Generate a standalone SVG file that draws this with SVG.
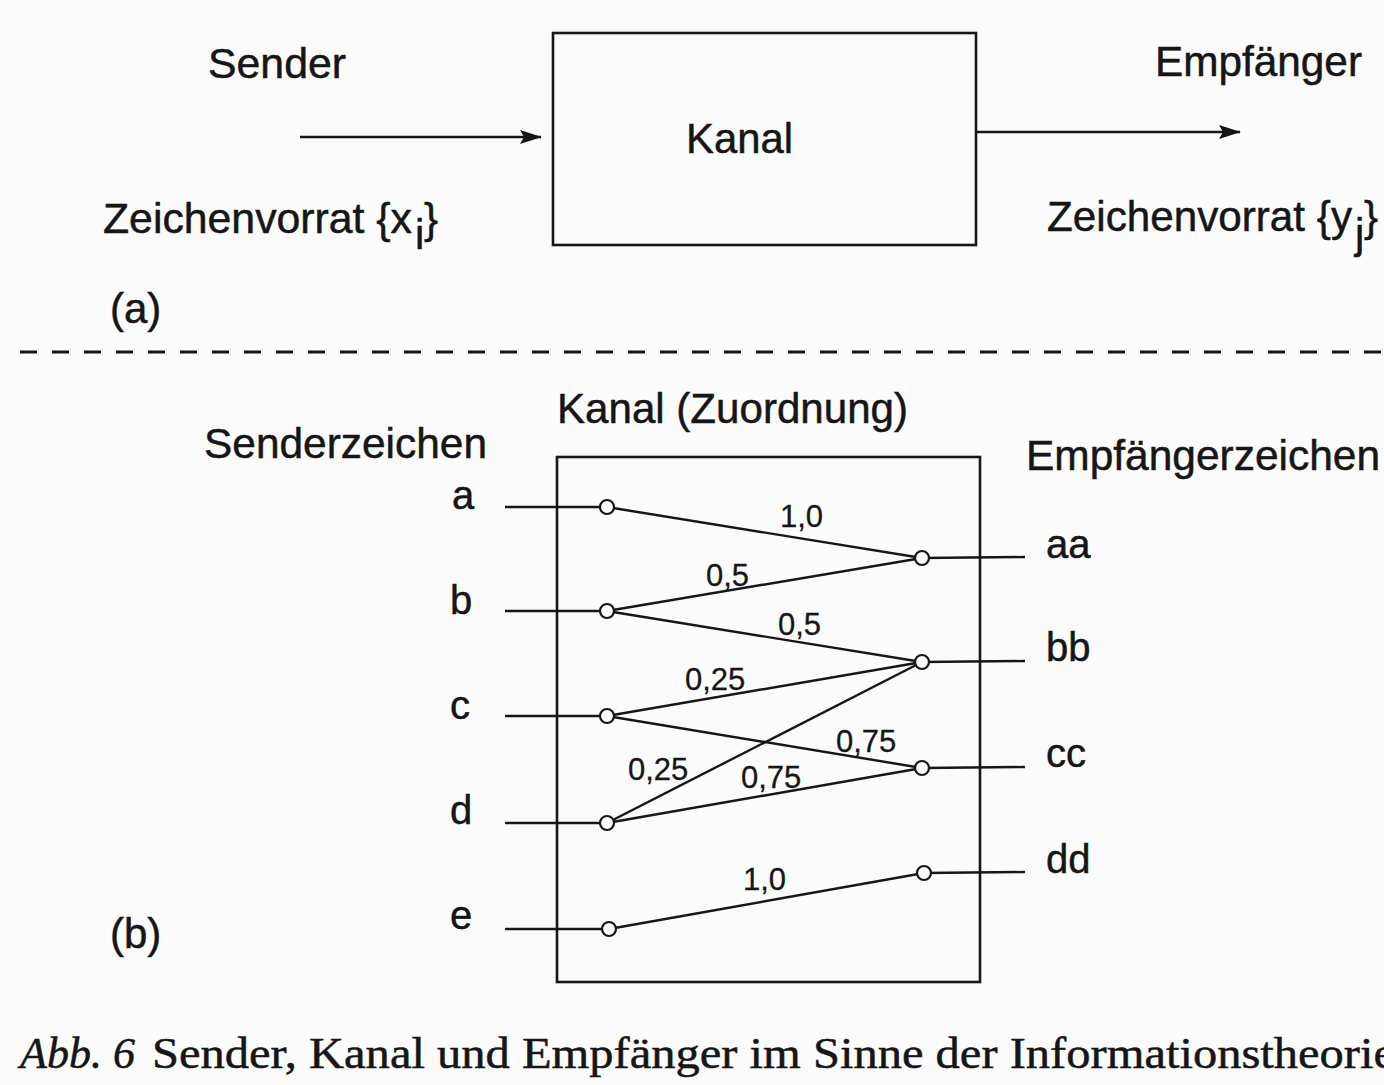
<svg xmlns="http://www.w3.org/2000/svg" width="1384" height="1085" viewBox="0 0 1384 1085">
  <defs>
    <marker id="arrow" viewBox="0 0 22 14" refX="21" refY="7" markerWidth="22" markerHeight="14" markerUnits="userSpaceOnUse" orient="auto">
      <path d="M0,0 L22,7 L0,14 L4,7 Z" fill="#161616"/>
    </marker>
    <style>
      .lbl { font-family: "Liberation Sans", Arial, sans-serif; font-size: 42px; fill: #161616; stroke: #161616; stroke-width: 0.5; }
      .sym { font-family: "Liberation Sans", Arial, sans-serif; font-size: 40px; fill: #161616; stroke: #161616; stroke-width: 0.5; }
      .prob { font-family: "Liberation Sans", Arial, sans-serif; font-size: 31px; fill: #161616; stroke: #161616; stroke-width: 0.3; }
      .cap { font-family: "Liberation Serif", "Times New Roman", serif; font-size: 44px; fill: #161616; stroke: #161616; stroke-width: 0.5; }
      .box { fill: none; stroke: #161616; stroke-width: 2.6; }
      .wire { fill: none; stroke: #161616; stroke-width: 2.4; }
      .node { fill: #fbfbfb; stroke: #161616; stroke-width: 2.2; }
    </style>
  </defs>

  <rect x="0" y="0" width="1384" height="1085" fill="#fbfbfb"/>

  <!-- (a) block diagram: sender, channel, receiver -->
  <g id="sender">
    <text class="lbl" x="208" y="78" textLength="138" lengthAdjust="spacingAndGlyphs">Sender</text>
    <text class="lbl" x="103" y="233" textLength="309" lengthAdjust="spacingAndGlyphs">Zeichenvorrat {x</text>
    <text class="lbl" x="415" y="249" font-size="32">i</text>
    <text class="lbl" x="424" y="233">}</text>
  </g>
  <g id="kanal">
    <rect class="box" x="553" y="33" width="423" height="212"/>
    <text class="lbl" x="686" y="153" textLength="107" lengthAdjust="spacingAndGlyphs">Kanal</text>
  </g>
  <g id="empfaenger">
    <text class="lbl" x="1155" y="76" textLength="207" lengthAdjust="spacingAndGlyphs">Empfänger</text>
    <text class="lbl" x="1047" y="231" textLength="305" lengthAdjust="spacingAndGlyphs">Zeichenvorrat {y</text>
    <text class="lbl" x="1355" y="248" font-size="32">j</text>
    <text class="lbl" x="1364" y="231">}</text>
  </g>
  <text class="lbl" x="110" y="323">(a)</text>

  <g id="connectors-a">
    <line class="wire" x1="300" y1="137" x2="541" y2="137" marker-end="url(#arrow)"/>
    <line class="wire" x1="976" y1="132" x2="1240" y2="132" marker-end="url(#arrow)"/>
  </g>

  <!-- separator between (a) and (b) -->
  <line x1="20" y1="352" x2="1384" y2="352" stroke="#161616" stroke-width="2.8" stroke-dasharray="17 15"/>

  <!-- (b) channel as assignment of sender symbols to receiver symbols -->
  <text class="lbl" x="557" y="423" textLength="351" lengthAdjust="spacingAndGlyphs">Kanal (Zuordnung)</text>
  <text class="lbl" x="204" y="458" textLength="283" lengthAdjust="spacingAndGlyphs">Senderzeichen</text>
  <text class="lbl" x="1026" y="470" textLength="354" lengthAdjust="spacingAndGlyphs">Empfängerzeichen</text>
  <text class="lbl" x="110" y="948">(b)</text>

  <g id="kanal-zuordnung">
    <rect class="box" x="557" y="457" width="423" height="525"/>
  </g>

  <g id="connectors-b">
    <!-- inputs -->
    <line class="wire" x1="505" y1="507" x2="607" y2="507"/>
    <line class="wire" x1="505" y1="611" x2="607" y2="611"/>
    <line class="wire" x1="505" y1="716" x2="607" y2="716"/>
    <line class="wire" x1="505" y1="823" x2="607" y2="823"/>
    <line class="wire" x1="505" y1="929" x2="609" y2="929"/>
    <!-- transitions -->
    <line class="wire" x1="607" y1="507" x2="922" y2="558"/>
    <line class="wire" x1="607" y1="611" x2="922" y2="558"/>
    <line class="wire" x1="607" y1="611" x2="922" y2="662"/>
    <line class="wire" x1="607" y1="716" x2="922" y2="662"/>
    <line class="wire" x1="607" y1="716" x2="922" y2="768"/>
    <line class="wire" x1="607" y1="823" x2="922" y2="662"/>
    <line class="wire" x1="607" y1="823" x2="922" y2="768"/>
    <line class="wire" x1="609" y1="929" x2="924" y2="873"/>
    <!-- outputs -->
    <line class="wire" x1="922" y1="558" x2="1025" y2="557"/>
    <line class="wire" x1="922" y1="662" x2="1025" y2="661"/>
    <line class="wire" x1="922" y1="768" x2="1025" y2="767"/>
    <line class="wire" x1="924" y1="873" x2="1025" y2="872"/>
    <!-- probabilities -->
    <text class="prob" x="780" y="527">1,0</text>
    <text class="prob" x="706" y="586">0,5</text>
    <text class="prob" x="778" y="635">0,5</text>
    <text class="prob" x="685" y="690">0,25</text>
    <text class="prob" x="836" y="752">0,75</text>
    <text class="prob" x="628" y="780">0,25</text>
    <text class="prob" x="741" y="788">0,75</text>
    <text class="prob" x="743" y="890">1,0</text>
  </g>

  <g id="src-a"><circle class="node" cx="607" cy="507" r="7"/><text class="sym" x="452" y="509">a</text></g>
  <g id="src-b"><circle class="node" cx="607" cy="611" r="7"/><text class="sym" x="450" y="614">b</text></g>
  <g id="src-c"><circle class="node" cx="607" cy="716" r="7"/><text class="sym" x="450" y="719">c</text></g>
  <g id="src-d"><circle class="node" cx="607" cy="823" r="7"/><text class="sym" x="450" y="824">d</text></g>
  <g id="src-e"><circle class="node" cx="609" cy="929" r="7"/><text class="sym" x="450" y="929">e</text></g>

  <g id="dst-aa"><circle class="node" cx="922" cy="558" r="7"/><text class="sym" x="1046" y="558">aa</text></g>
  <g id="dst-bb"><circle class="node" cx="922" cy="662" r="7"/><text class="sym" x="1046" y="661">bb</text></g>
  <g id="dst-cc"><circle class="node" cx="922" cy="768" r="7"/><text class="sym" x="1046" y="767">cc</text></g>
  <g id="dst-dd"><circle class="node" cx="924" cy="873" r="7"/><text class="sym" x="1046" y="873">dd</text></g>

  <!-- caption -->
  <text class="cap" x="20" y="1068"><tspan font-style="italic">Abb. 6</tspan></text>
  <text class="cap" x="152" y="1068" textLength="1243" lengthAdjust="spacingAndGlyphs">Sender, Kanal und Empfänger im Sinne der Informationstheorie</text>
</svg>
